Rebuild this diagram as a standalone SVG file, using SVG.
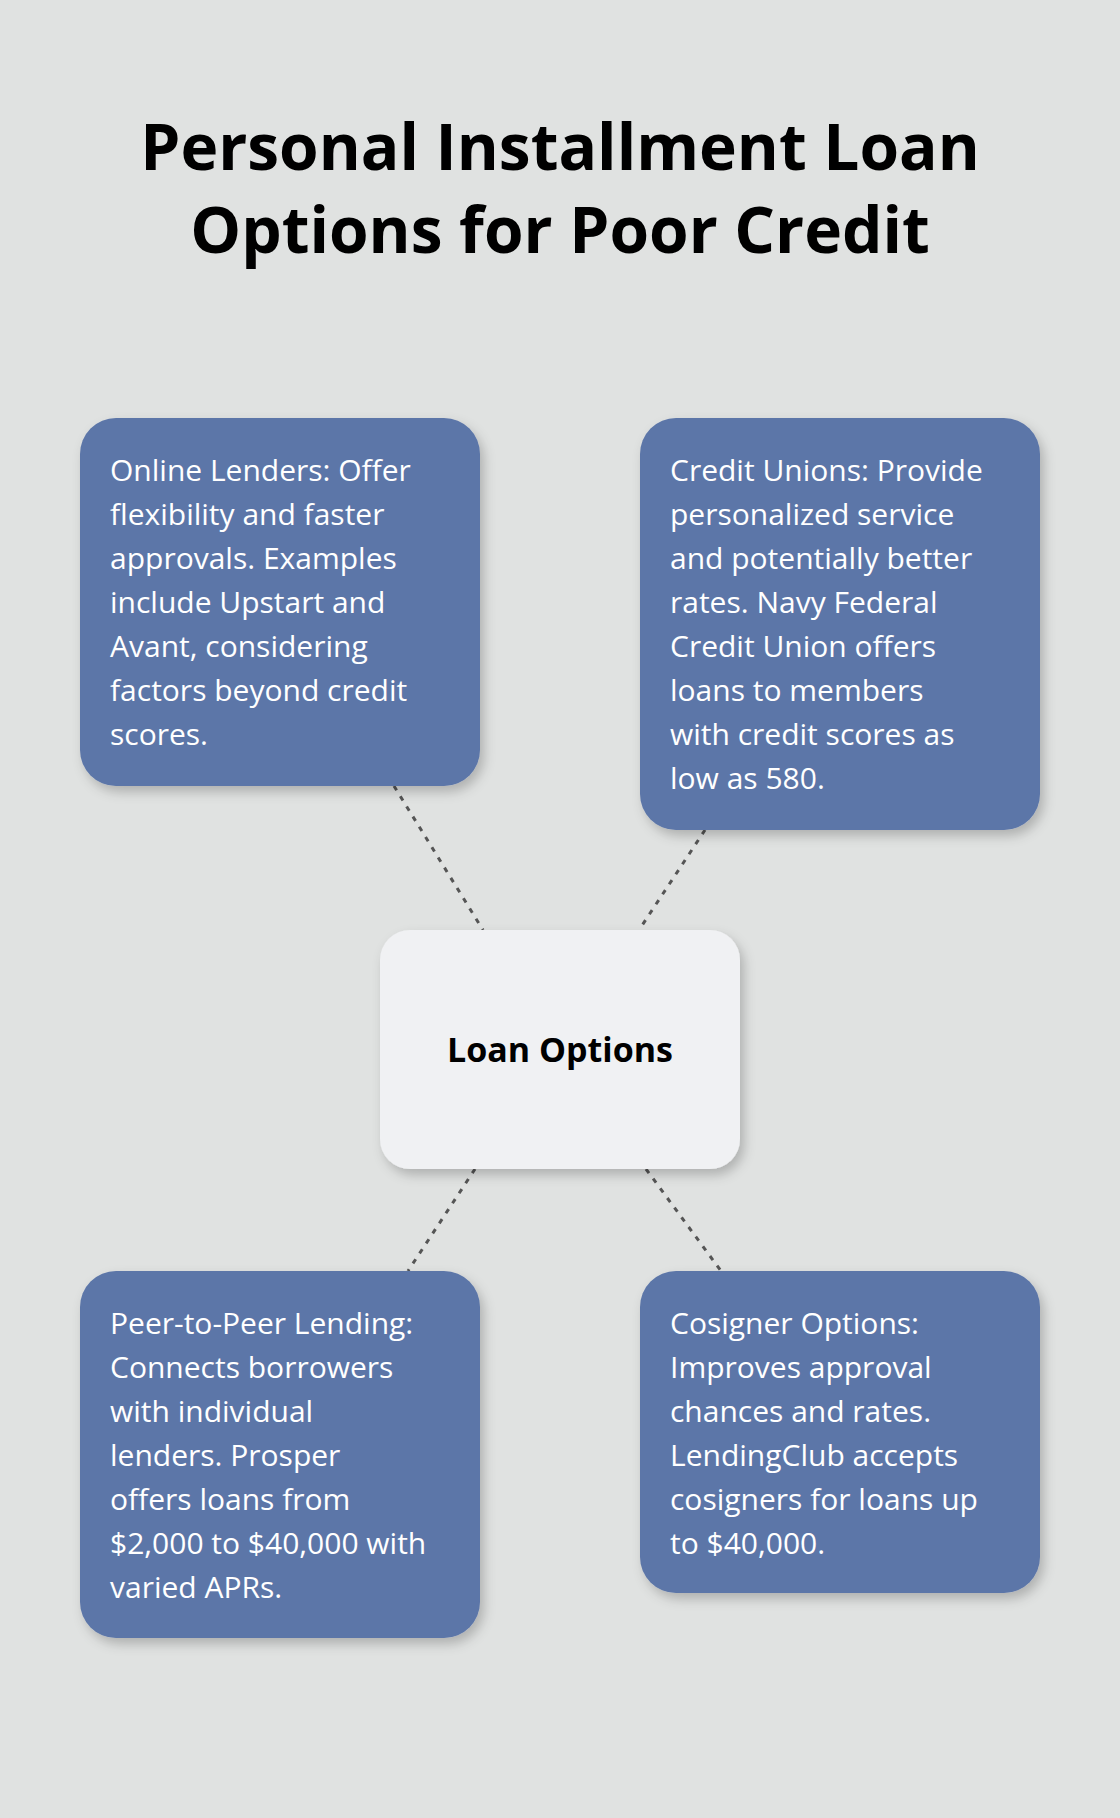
<svg xmlns="http://www.w3.org/2000/svg" width="1120" height="1818" viewBox="0 0 1120 1818">
<defs>
<filter id="sh" x="-20%" y="-20%" width="140%" height="140%"><feDropShadow dx="4" dy="6" stdDeviation="6" flood-color="#000" flood-opacity="0.22"/></filter>
<style>
.box{fill:#5c76a8;filter:url(#sh)}
.t{font-family:"Open Sans",sans-serif;font-size:30px;fill:#fff}
.c{stroke:#555;stroke-width:3;stroke-dasharray:5 7;fill:none}
</style>
</defs>
<rect width="1120" height="1818" fill="#e0e2e1"/>
<text x="560" y="170" text-anchor="middle" font-family="Open Sans,sans-serif" font-weight="bold" font-size="64" fill="#000">Personal Installment Loan</text>
<text x="560" y="253" text-anchor="middle" font-family="Open Sans,sans-serif" font-weight="bold" font-size="64" fill="#000">Options for Poor Credit</text>
<g id="connectors">
<line class="c" x1="394" y1="786" x2="483" y2="930"/>
<line class="c" x1="705" y1="830" x2="639" y2="930"/>
<line class="c" x1="475" y1="1169" x2="408" y2="1271"/>
<line class="c" x1="646" y1="1169" x2="721" y2="1271"/>
</g>
<g id="online">
<rect class="box" x="80" y="418" width="400" height="368" rx="36"/>
<text class="t" x="110" y="481">Online Lenders: Offer<tspan x="110" dy="44">flexibility and faster</tspan><tspan x="110" dy="44">approvals. Examples</tspan><tspan x="110" dy="44">include Upstart and</tspan><tspan x="110" dy="44">Avant, considering</tspan><tspan x="110" dy="44">factors beyond credit</tspan><tspan x="110" dy="44">scores.</tspan></text>
</g>
<g id="credit">
<rect class="box" x="640" y="418" width="400" height="412" rx="36"/>
<text class="t" x="670" y="481">Credit Unions: Provide<tspan x="670" dy="44">personalized service</tspan><tspan x="670" dy="44">and potentially better</tspan><tspan x="670" dy="44">rates. Navy Federal</tspan><tspan x="670" dy="44">Credit Union offers</tspan><tspan x="670" dy="44">loans to members</tspan><tspan x="670" dy="44">with credit scores as</tspan><tspan x="670" dy="44">low as 580.</tspan></text>
</g>
<g id="center">
<rect x="380" y="930" width="360" height="239" rx="30" fill="#f0f1f3" filter="url(#sh)"/>
<text x="560" y="1062" text-anchor="middle" font-family="Open Sans,sans-serif" font-weight="bold" font-size="34" fill="#000">Loan Options</text>
</g>
<g id="p2p">
<rect class="box" x="80" y="1271" width="400" height="367" rx="36"/>
<text class="t" x="110" y="1334">Peer-to-Peer Lending:<tspan x="110" dy="44">Connects borrowers</tspan><tspan x="110" dy="44">with individual</tspan><tspan x="110" dy="44">lenders. Prosper</tspan><tspan x="110" dy="44">offers loans from</tspan><tspan x="110" dy="44">$2,000 to $40,000 with</tspan><tspan x="110" dy="44">varied APRs.</tspan></text>
</g>
<g id="cosigner">
<rect class="box" x="640" y="1271" width="400" height="322" rx="36"/>
<text class="t" x="670" y="1334">Cosigner Options:<tspan x="670" dy="44">Improves approval</tspan><tspan x="670" dy="44">chances and rates.</tspan><tspan x="670" dy="44">LendingClub accepts</tspan><tspan x="670" dy="44">cosigners for loans up</tspan><tspan x="670" dy="44">to $40,000.</tspan></text>
</g>
</svg>
